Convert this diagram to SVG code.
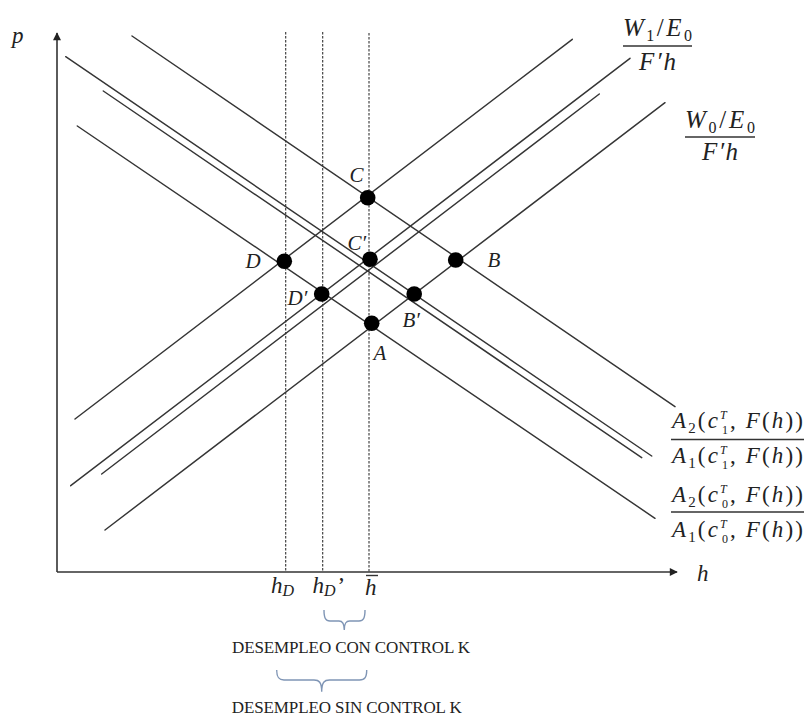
<svg xmlns="http://www.w3.org/2000/svg" width="804" height="717" viewBox="0 0 804 717">
<style>
.bg{fill:#fff}
.ax{stroke:#333;stroke-width:1.6;fill:none}
.ln{stroke:#353535;stroke-width:1.45;fill:none;stroke-linecap:round}
.dash{stroke:#333;stroke-width:1.1;stroke-dasharray:2.5 1.5;fill:none}
.dot{fill:#000}
.mi{font-family:"Liberation Serif","Times New Roman",serif;font-style:italic;fill:#222}
.up{font-style:normal}
.txt{font-family:"Liberation Serif","Times New Roman",serif;fill:#222}
.frac{stroke:#333;stroke-width:1.4}
.brace{stroke:#7f95b5;stroke-width:1.4;fill:none}
</style>
<defs>
<marker id="arr" viewBox="0 0 10 10" refX="9" refY="5" markerWidth="9" markerHeight="8" markerUnits="userSpaceOnUse" orient="auto">
<path d="M0,0 L10,5 L0,10 Z" fill="#222"/>
</marker>
</defs>
<rect class="bg" x="0" y="0" width="804" height="717"/>

<g id="axes">
<line class="ax" x1="57" y1="572" x2="57" y2="33" marker-end="url(#arr)"/>
<line class="ax" x1="57" y1="572" x2="677" y2="572" marker-end="url(#arr)"/>
<text class="mi" x="12" y="43" font-size="23">p</text>
<text class="mi" x="697" y="581" font-size="23">h</text>
</g>

<g id="connectors">
<line class="ln" x1="132" y1="36" x2="675" y2="406.7"/>
<line class="ln" x1="65.7" y1="56.7" x2="651.7" y2="456"/>
<line class="ln" x1="103.3" y1="91" x2="641.7" y2="457.7"/>
<line class="ln" x1="77.3" y1="126" x2="655" y2="518.3"/>
<line class="ln" x1="75" y1="419" x2="572.3" y2="39.3"/>
<line class="ln" x1="70.7" y1="485.7" x2="630" y2="58.3"/>
<line class="ln" x1="101.7" y1="474" x2="599.3" y2="94"/>
<line class="ln" x1="105" y1="530" x2="665" y2="102.7"/>
<line class="dash" x1="285.7" y1="32" x2="285.7" y2="572"/>
<line class="dash" x1="322.7" y1="32" x2="322.7" y2="572"/>
<line class="dash" x1="369" y1="33" x2="369" y2="572"/>
</g>

<g id="C"><circle class="dot" cx="367.7" cy="197.7" r="7.8"/><text class="mi" x="349.5" y="182" font-size="21">C</text></g>
<g id="Cp"><circle class="dot" cx="370" cy="259.3" r="7.8"/><text class="mi" x="347.5" y="250" font-size="21">C′</text></g>
<g id="D"><circle class="dot" cx="284.3" cy="261.3" r="7.8"/><text class="mi" x="245.5" y="268" font-size="21">D</text></g>
<g id="B"><circle class="dot" cx="455.7" cy="260" r="7.8"/><text class="mi" x="487.5" y="267" font-size="21">B</text></g>
<g id="Dp"><circle class="dot" cx="321.7" cy="294" r="7.8"/><text class="mi" x="287.5" y="305" font-size="21">D′</text></g>
<g id="Bp"><circle class="dot" cx="414.2" cy="294" r="7.8"/><text class="mi" x="402.5" y="327" font-size="21">B′</text></g>
<g id="A"><circle class="dot" cx="371.7" cy="323.3" r="7.8"/><text class="mi" x="373.5" y="360" font-size="21">A</text></g>

<g id="label-W1">
<text class="mi" x="623" y="36" font-size="25" textLength="69">W<tspan class="up" font-size="16" dy="5">1</tspan><tspan class="up" dy="-5">/</tspan>E<tspan class="up" font-size="16" dy="5">0</tspan></text>
<line class="frac" x1="623" y1="46" x2="692" y2="46"/>
<text class="mi" x="639" y="70" font-size="25" textLength="37">F′h</text>
</g>
<g id="label-W0">
<text class="mi" x="685" y="128" font-size="25" textLength="70">W<tspan class="up" font-size="16" dy="5">0</tspan><tspan class="up" dy="-5">/</tspan>E<tspan class="up" font-size="16" dy="5">0</tspan></text>
<line class="frac" x1="685" y1="137" x2="755" y2="137"/>
<text class="mi" x="702" y="160" font-size="25" textLength="36">F′h</text>
</g>

<g id="label-A-c1">
<text class="mi" x="672" y="428" font-size="23" textLength="131">A<tspan class="up" font-size="15" dy="5">2</tspan><tspan class="up" dy="-5">(</tspan>c<tspan font-size="12" dy="-9">T</tspan><tspan class="up" font-size="12" dx="-7" dy="14.5">1</tspan><tspan class="up" dy="-5.5">, </tspan>F<tspan class="up">(</tspan>h<tspan class="up">))</tspan></text>
<line class="frac" x1="671" y1="439.5" x2="804" y2="439.5"/>
<text class="mi" x="672" y="463" font-size="23" textLength="131">A<tspan class="up" font-size="15" dy="5">1</tspan><tspan class="up" dy="-5">(</tspan>c<tspan font-size="12" dy="-9">T</tspan><tspan class="up" font-size="12" dx="-7" dy="14.5">1</tspan><tspan class="up" dy="-5.5">, </tspan>F<tspan class="up">(</tspan>h<tspan class="up">))</tspan></text>
</g>
<g id="label-A-c0">
<text class="mi" x="672" y="502" font-size="23" textLength="131">A<tspan class="up" font-size="15" dy="5">2</tspan><tspan class="up" dy="-5">(</tspan>c<tspan font-size="12" dy="-9">T</tspan><tspan class="up" font-size="12" dx="-7" dy="14.5">0</tspan><tspan class="up" dy="-5.5">, </tspan>F<tspan class="up">(</tspan>h<tspan class="up">))</tspan></text>
<line class="frac" x1="671" y1="512" x2="804" y2="512"/>
<text class="mi" x="672" y="537" font-size="23" textLength="131">A<tspan class="up" font-size="15" dy="5">1</tspan><tspan class="up" dy="-5">(</tspan>c<tspan font-size="12" dy="-9">T</tspan><tspan class="up" font-size="12" dx="-7" dy="14.5">0</tspan><tspan class="up" dy="-5.5">, </tspan>F<tspan class="up">(</tspan>h<tspan class="up">))</tspan></text>
</g>

<g id="axis-labels">
<text class="mi" x="271" y="593" font-size="23">h<tspan font-size="16" dy="3">D</tspan></text>
<text class="mi" x="312.5" y="593" font-size="23">h<tspan font-size="16" dy="3">D</tspan><tspan class="up" dy="-3" dx="2">’</tspan></text>
<text class="mi" x="365" y="595" font-size="23">h</text>
<line class="frac" x1="366" y1="575.5" x2="378" y2="575.5"/>
</g>

<g id="brace-con">
<path class="brace" d="M324,610 C324,618 325.5,621 330,621 L339,621 C342.5,621 344.3,623 344.3,630 C344.3,623 346,621 349.6,621 L359,621 C363.5,621 365,618 365,610"/>
<text class="txt" x="351" y="653" font-size="17" text-anchor="middle" textLength="238">DESEMPLEO CON CONTROL K</text>
</g>
<g id="brace-sin">
<path class="brace" d="M276.7,670 C276.7,677 278.5,680 284,680 L314,680 C319,680 321.7,682 321.7,691.7 C321.7,682 324.5,680 329.5,680 L359.5,680 C365,680 366.7,677 366.7,670"/>
<text class="txt" x="346.7" y="713" font-size="17" text-anchor="middle" textLength="230">DESEMPLEO SIN CONTROL K</text>
</g>
</svg>
